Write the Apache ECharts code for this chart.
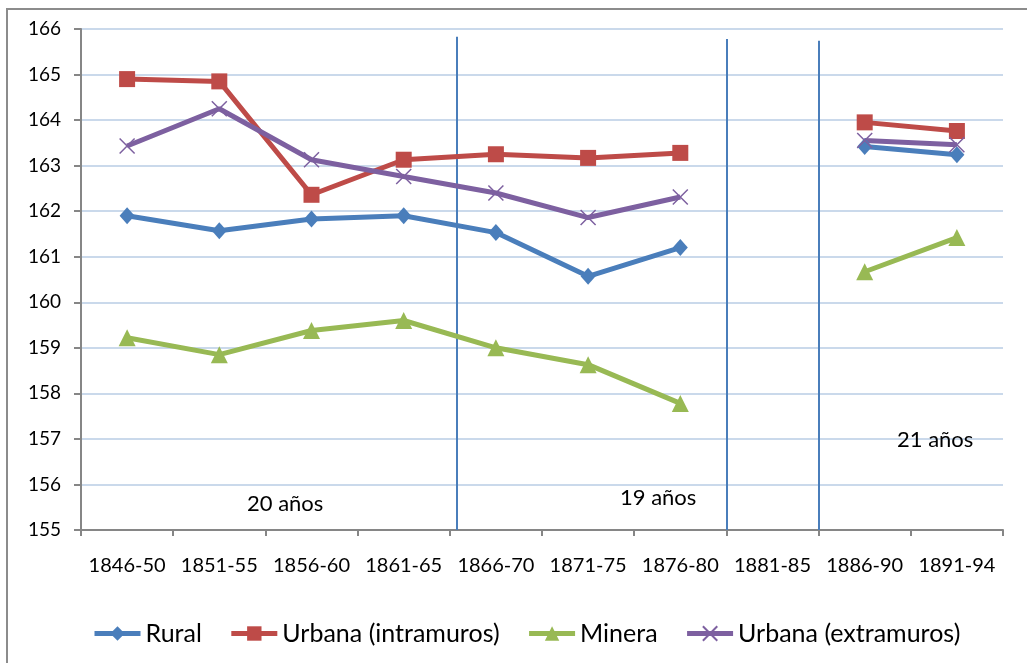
<!DOCTYPE html>
<html>
<head>
<meta charset="utf-8">
<script src="https://cdn.jsdelivr.net/npm/echarts@6/dist/echarts.min.js"></script>
<style>
  html, body { margin: 0; padding: 0; background: #fff; }
  #chart { width: 1027px; height: 663px; }
</style>
</head>
<body>
<div id="chart"></div>
<script>
const periods = ['1846-50', '1851-55', '1856-60', '1861-65', '1866-70', '1871-75', '1876-80', '1881-85', '1886-90', '1891-94'];
const rural = [161.9, 161.57, 161.83, 161.9, 161.53, 160.57, 161.2, null, 163.42, 163.24];
const urbanaIntra = [164.9, 164.85, 162.36, 163.13, 163.25, 163.17, 163.28, null, 163.95, 163.76];
const minera = [159.22, 158.85, 159.38, 159.6, 159.0, 158.63, 157.78, null, 160.67, 161.42];
const urbanaExtra = [163.43, 164.25, 163.13, 162.76, 162.4, 161.86, 162.31, null, 163.55, 163.46];
const yTicks = [155, 166];
// separators, in category units, and how high they reach
const separators = [3.58, 6.51, 7.5];
const separatorTops = [165.83, 165.78, 165.74];
const notes = ['20 años', '19 años', '21 años'];

const fontFamily = 'Lato, sans-serif';
const chart = echarts.init(document.getElementById('chart'));

const crossPath = 'path://M0,0L10,10M10,0L0,10';

const lineSeries = (name, data, color, symbol, size, extra) => Object.assign({
    name: name,
    type: 'line',
    data: data,
    symbol: symbol,
    symbolSize: size,
    connectNulls: false,
    lineStyle: { color: color, width: 5 },
    itemStyle: { color: color },
    emphasis: { disabled: true },
    z: 3
}, extra || {});

const noteStyle = { fontSize: 22, fill: '#000', fontFamily: fontFamily };

const option = {
    animation: false,
    textStyle: { fontFamily: fontFamily },
    grid: { left: 81, right: 24, top: 29, bottom: 133 },
    legend: {
        left: 87,
        top: 616,
        itemWidth: 46,
        itemHeight: 18,
        itemGap: 27,
        lineStyle: { width: 5 },
        textStyle: { fontSize: 25, color: '#000', fontFamily: fontFamily },
        data: ['Rural', 'Urbana (intramuros)', 'Minera', 'Urbana (extramuros)']
    },
    xAxis: {
        type: 'category',
        data: periods,
        boundaryGap: true,
        axisLine: { lineStyle: { color: '#868686', width: 2 } },
        axisTick: { show: true, interval: 0, length: 6, lineStyle: { color: '#868686', width: 2 } },
        axisLabel: { color: '#000', fontSize: 20, margin: 26, interval: 0, hideOverlap: false },
        splitLine: { show: false }
    },
    yAxis: {
        type: 'value',
        min: yTicks[0],
        max: yTicks[1],
        interval: 1,
        axisLine: { show: true, lineStyle: { color: '#868686', width: 2 } },
        axisTick: { show: true, length: 7, lineStyle: { color: '#868686', width: 2 } },
        axisLabel: { color: '#000', fontSize: 19, margin: 20 },
        splitLine: { lineStyle: { color: '#B9CDE5', width: 1.5 } }
    },
    series: [
        lineSeries('Rural', rural, '#4A7EBB', 'diamond', [15, 17]),
        lineSeries('Urbana (intramuros)', urbanaIntra, '#BE4B48', 'rect', 16),
        lineSeries('Minera', minera, '#98B954', 'triangle', 17),
        lineSeries('Urbana (extramuros)', urbanaExtra, '#7D60A0', crossPath, 15, {
            itemStyle: { color: '#7D60A0', borderColor: '#7D60A0', borderWidth: 1.5 }
        })
    ]
};

chart.setOption(option);

// separator lines between the periods, placed through the axes
const catX = (v) => {
    const i = Math.floor(v);
    const a = chart.convertToPixel({ xAxisIndex: 0 }, i);
    const b = chart.convertToPixel({ xAxisIndex: 0 }, i + 1);
    return a + (v - i) * (b - a);
};
const yPx = (v) => chart.convertToPixel({ yAxisIndex: 0 }, v);

const graphics = [
    {
        type: 'rect',
        shape: { x: 7, y: 9, width: 1100, height: 700 },
        style: { fill: 'none', stroke: '#8c8c8c', lineWidth: 2 },
        silent: true
    }
];
separators.forEach((s, i) => {
    const x = Math.round(catX(s));
    graphics.push({
        type: 'line',
        shape: { x1: x, y1: yPx(yTicks[0]), x2: x, y2: yPx(separatorTops[i]) },
        style: { stroke: '#4A7EBB', lineWidth: 2 },
        silent: true,
        z: 2
    });
});
graphics.push(
    { type: 'text', x: 247, y: 493, style: Object.assign({ text: notes[0] }, noteStyle) },
    { type: 'text', x: 620, y: 487, style: Object.assign({ text: notes[1] }, noteStyle) },
    { type: 'text', x: 897, y: 429, style: Object.assign({ text: notes[2] }, noteStyle) }
);
chart.setOption({ graphic: graphics });

window.addEventListener('resize', () => chart.resize());
</script>
</body>
</html>
